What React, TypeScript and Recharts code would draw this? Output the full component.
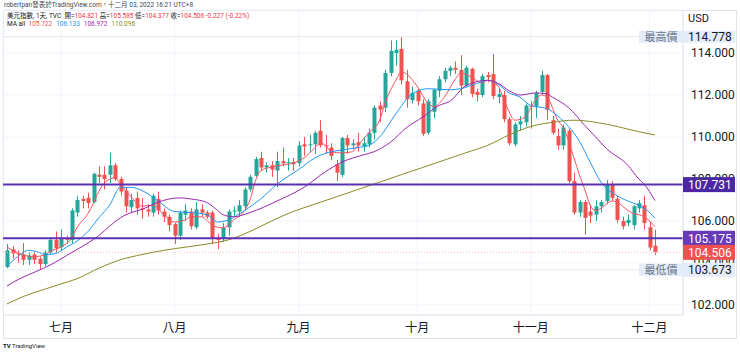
import { Bar, CartesianGrid, ComposedChart, Line, ReferenceLine, XAxis, YAxis } from 'recharts';

const FONT = 'Roboto, "Noto Sans CJK TC", sans-serif';
const UP = '#26a69a';
const DOWN = '#ef5350';

const dates = [
  '06-17', '06-20', '06-21', '06-22', '06-23', '06-24', '06-27', '06-28', '06-29', '06-30',
  '07-01', '07-04', '07-05', '07-06', '07-07', '07-08', '07-11', '07-12', '07-13', '07-14',
  '07-15', '07-18', '07-19', '07-20', '07-21', '07-22', '07-25', '07-26', '07-27', '07-28',
  '07-29', '08-01', '08-02', '08-03', '08-04', '08-05', '08-08', '08-09', '08-10', '08-11',
  '08-12', '08-15', '08-16', '08-17', '08-18', '08-19', '08-22', '08-23', '08-24', '08-25',
  '08-26', '08-29', '08-30', '08-31', '09-01', '09-02', '09-05', '09-06', '09-07', '09-08',
  '09-09', '09-12', '09-13', '09-14', '09-15', '09-16', '09-19', '09-20', '09-21', '09-22',
  '09-23', '09-26', '09-27', '09-28', '09-29', '09-30', '10-03', '10-04', '10-05', '10-06',
  '10-07', '10-10', '10-11', '10-12', '10-13', '10-14', '10-17', '10-18', '10-19', '10-20',
  '10-21', '10-24', '10-25', '10-26', '10-27', '10-28', '10-31', '11-01', '11-02', '11-03',
  '11-04', '11-07', '11-08', '11-09', '11-10', '11-11', '11-14', '11-15', '11-16', '11-17',
  '11-18', '11-21', '11-22', '11-23', '11-24', '11-25', '11-28', '11-29', '11-30', '12-01',
  '12-02',
];

const opens = [
  103.8, 104.65, 104.45, 104.4, 104.15, 104.4, 104.2, 103.95, 104.5, 105.1,
  104.75, 105.15, 105.1, 106.4, 107.05, 107.1, 106.9, 108.2, 108.2, 108.2,
  108.65, 108.0, 107.45, 106.65, 107.1, 106.6, 106.55, 106.4, 107.05, 106.45,
  106.2, 105.85, 105.3, 106.3, 106.45, 105.7, 106.55, 106.4, 106.4, 105.2,
  105.15, 105.7, 106.45, 106.45, 106.7, 107.5, 108.15, 109.0, 108.55, 108.65,
  108.4, 108.85, 108.75, 108.8, 108.75, 109.65, 109.6, 109.65, 110.3, 109.6,
  109.5, 108.7, 108.2, 109.95, 109.6, 109.75, 109.55, 109.65, 110.2, 111.5,
  111.4, 113.05, 114.0, 114.2, 112.65, 111.75, 112.2, 111.6, 110.2, 111.2,
  112.2, 112.75, 113.15, 113.3, 113.2, 112.45, 113.25, 112.15, 112.0, 112.95,
  113.0, 111.9, 112.0, 110.85, 109.65, 110.6, 110.7, 111.5, 111.45, 112.15,
  112.95, 110.8, 110.05, 109.6, 110.3, 107.9, 106.4, 106.9, 106.45, 106.3,
  106.7, 106.95, 107.75, 107.05, 106.0, 105.9, 105.8, 106.6, 106.75, 105.7,
  104.821,
];

const highs = [
  104.9, 104.8, 104.6, 104.95, 104.5, 104.55, 104.3, 104.6, 105.2, 105.5,
  105.6, 105.3, 106.6, 107.2, 107.2, 107.35, 108.3, 108.6, 108.6, 109.25,
  108.75, 108.1, 107.6, 107.3, 107.4, 107.1, 106.8, 107.3, 107.4, 106.6,
  106.3, 105.9, 106.5, 106.8, 106.6, 106.9, 106.8, 106.5, 106.5, 105.4,
  105.9, 106.55, 106.7, 107.0, 107.6, 108.2, 109.05, 109.3, 108.8, 108.85,
  109.3, 109.5, 109.0, 109.0, 109.8, 110.0, 110.1, 110.3, 110.8, 110.1,
  109.7, 108.9, 110.0, 110.1, 109.9, 110.2, 110.0, 110.4, 111.5, 111.7,
  113.2, 114.6, 114.6, 114.778, 113.2, 112.4, 112.3, 111.8, 111.8, 112.3,
  112.9, 113.3, 113.4, 113.6, 113.9, 113.4, 113.3, 112.3, 113.0, 113.1,
  113.95, 112.3, 112.2, 110.95, 110.7, 111.0, 111.6, 111.7, 112.2, 113.15,
  113.0, 111.0, 110.4, 110.6, 110.4, 108.3, 107.0, 107.0, 106.8, 107.0,
  107.0, 107.95, 107.9, 107.2, 106.2, 106.3, 106.75, 107.0, 107.2, 105.95,
  105.585,
];

const lows = [
  103.75, 104.2, 104.0, 103.9, 103.9, 103.95, 103.673, 103.85, 104.4, 104.5,
  104.6, 104.9, 104.95, 106.2, 106.6, 106.6, 106.85, 107.8, 107.5, 107.8,
  107.9, 107.2, 106.4, 106.4, 106.3, 106.1, 106.2, 106.2, 106.3, 105.95,
  105.5, 104.9, 105.1, 106.0, 105.6, 105.6, 106.2, 106.1, 104.9, 104.65,
  105.0, 105.3, 106.2, 106.2, 106.5, 107.4, 108.1, 108.4, 108.3, 108.1,
  107.6, 108.6, 108.4, 108.4, 108.6, 109.1, 109.3, 109.2, 109.5, 109.2,
  108.9, 107.9, 108.1, 109.2, 109.4, 109.3, 109.3, 109.5, 109.9, 110.7,
  111.2, 112.9, 113.4, 112.5, 111.4, 111.6, 111.5, 110.05, 110.1, 110.9,
  111.9, 112.6, 112.9, 113.0, 112.0, 112.4, 111.9, 111.7, 111.9, 112.6,
  111.8, 111.6, 110.7, 109.6, 109.55, 110.3, 110.5, 110.4, 110.9, 112.0,
  110.8, 110.1, 109.4, 109.4, 107.8, 106.3, 106.2, 105.35, 105.9, 106.0,
  106.4, 106.8, 106.95, 105.9, 105.6, 105.75, 105.6, 106.4, 105.6, 104.6,
  104.377,
];

const closes = [
  104.6, 104.45, 104.4, 104.15, 104.35, 104.15, 103.95, 104.5, 105.1, 104.7,
  105.15, 105.1, 106.5, 107.0, 106.95, 106.85, 108.25, 108.1, 108.0, 108.65,
  108.0, 107.4, 106.7, 107.0, 106.6, 106.55, 106.45, 107.2, 106.5, 106.2,
  105.8, 105.3, 106.4, 106.5, 105.75, 106.55, 106.4, 106.2, 105.2, 105.1,
  105.7, 106.45, 106.5, 106.75, 107.5, 108.1, 108.95, 108.55, 108.65, 108.45,
  108.85, 108.75, 108.8, 108.7, 109.6, 109.55, 109.65, 110.2, 109.6, 109.55,
  109.1, 108.3, 109.95, 109.6, 109.7, 109.6, 109.7, 110.2, 111.4, 111.3,
  113.05, 114.1, 114.15, 112.7, 111.8, 112.1, 111.7, 110.15, 111.7, 112.25,
  112.75, 113.15, 113.3, 113.2, 112.45, 113.3, 112.05, 112.0, 112.9, 112.85,
  111.95, 112.05, 110.85, 109.7, 110.6, 110.75, 111.5, 111.45, 112.1, 112.95,
  111.3, 110.2, 109.6, 110.45, 107.9, 106.4, 106.9, 106.15, 106.25, 106.7,
  106.9, 107.75, 107.1, 106.05, 105.75, 106.05, 106.7, 106.85, 105.9, 104.733,
  104.506,
];

const monthStarts = ['07-01', '08-01', '09-01', '10-03', '11-01', '12-01'];
const monthLabels = ['七月', '八月', '九月', '十月', '十一月', '十二月'];

// moving averages: [candle index, value]
const ma5 = [
  [0, 104.76], [1, 104.6], [3, 104.38], [5, 104.3], [7, 104.38], [8, 104.55], [10, 104.76],
  [12, 105.2], [13, 105.7], [15, 106.35], [16, 106.85], [17, 107.4], [18, 107.8], [20, 108.05],
  [21, 107.75], [23, 107.15], [25, 106.7], [27, 106.75], [29, 106.3], [31, 105.95], [33, 106.05],
  [34, 106.2], [36, 106.2], [38, 105.8], [40, 105.67], [42, 106.05], [44, 106.5], [45, 107.0],
  [46, 107.9], [47, 108.4], [49, 108.57], [51, 108.67], [53, 108.76], [55, 109.0], [57, 109.48],
  [58, 109.7], [59, 109.6], [60, 109.3], [62, 109.24], [64, 109.3], [65, 109.6], [67, 110.2],
  [69, 110.8], [70, 111.6], [72, 112.7], [73, 113.1], [74, 113.0], [76, 112.4], [78, 111.6],
  [79, 111.45], [81, 111.9], [83, 112.75], [84, 113.05], [86, 112.86], [88, 112.57], [89, 112.7],
  [91, 112.4], [92, 111.8], [93, 111.2], [94, 110.8], [96, 110.95], [97, 111.4], [99, 112.0],
  [100, 111.9], [102, 110.8], [103, 110.45], [105, 109.0], [106, 108.2], [107, 107.5],
  [108, 106.75], [109, 106.5], [110, 106.6], [111, 106.8], [112, 106.95], [113, 106.9],
  [114, 106.7], [115, 106.5], [116, 106.35], [117, 106.3], [118, 106.2], [119, 106.0],
  [120, 105.722],
];

const ma10 = [
  [0, 103.85], [2, 104.3], [4, 104.6], [6, 104.5], [7, 104.4], [9, 104.45], [11, 104.75],
  [13, 105.05], [15, 105.5], [17, 106.15], [19, 106.75], [21, 107.6], [23, 107.6], [25, 107.45],
  [28, 106.95], [31, 106.45], [34, 106.4], [37, 106.3], [39, 105.95], [41, 106.05], [44, 106.5],
  [47, 107.05], [50, 107.75], [54, 108.45], [57, 109.0], [60, 109.3], [62, 109.38], [65, 109.5],
  [67, 109.6], [69, 110.0], [72, 111.1], [75, 112.05], [78, 112.3], [82, 112.25], [84, 112.3],
  [87, 112.55], [89, 112.7], [91, 112.5], [93, 112.1], [95, 111.9], [97, 111.5], [100, 111.35],
  [102, 111.0], [104, 110.5], [106, 109.8], [108, 108.8], [110, 107.85], [113, 107.2],
  [116, 106.85], [117, 106.75], [118, 106.6], [119, 106.4], [120, 106.133],
];

const ma20 = [
  [0, 102.9], [2, 103.2], [5, 103.55], [8, 103.9], [12, 104.5], [15, 104.95], [17, 105.3],
  [19, 105.75], [21, 106.15], [23, 106.4], [25, 106.55], [28, 106.9], [32, 107.1], [34, 107.05],
  [37, 106.88], [39, 106.5], [40, 106.3], [42, 106.2], [45, 106.4], [50, 106.95], [55, 107.6],
  [59, 108.35], [62, 108.8], [66, 109.15], [68, 109.3], [71, 109.75], [74, 110.45], [77, 110.95],
  [80, 111.5], [82, 111.7], [85, 112.45], [89, 112.7], [91, 112.55], [93, 112.2], [95, 112.0],
  [98, 112.1], [100, 112.05], [101, 111.9], [104, 111.4], [107, 110.55], [109, 110.0],
  [111, 109.45], [115, 108.65], [117, 108.0], [118, 107.75], [120, 106.972],
];

const ma60 = [
  [0, 102.05], [3, 102.4], [7, 102.75], [10, 103.0], [13, 103.25], [17, 103.75], [21, 104.15],
  [25, 104.4], [29, 104.6], [33, 104.75], [37, 104.9], [41, 105.1], [45, 105.5], [49, 106.0],
  [53, 106.45], [57, 106.8], [61, 107.15], [65, 107.5], [69, 107.85], [73, 108.2], [77, 108.55],
  [81, 108.9], [85, 109.25], [89, 109.6], [93, 110.1], [97, 110.5], [101, 110.7], [105, 110.8],
  [109, 110.7], [113, 110.5], [117, 110.25], [120, 110.096],
];

const priceTicks = [102, 104, 106, 108, 110, 112, 114];
const resistance = 107.731;
const support = 105.175;

const X_DOMAIN = [-0.74, 125.19];
const Y_DOMAIN = [101.52, 116.05];

const candles = dates.map((date, i) => ({
  i,
  date,
  open: opens[i],
  high: highs[i],
  low: lows[i],
  close: closes[i],
}));

const toPoints = (rows: number[][]) => rows.map(([i, v]) => ({ i, v }));

const last = candles.length - 1;
const lastClose = closes[last];
const change = lastClose - closes[last - 1];
const highest = Math.max(...highs);
const lowest = Math.min(...lows);

const maLines = [
  { name: 'ma5', rows: ma5, color: '#f7525f' },
  { name: 'ma10', rows: ma10, color: '#2196f3' },
  { name: 'ma20', rows: ma20, color: '#9c27b0' },
  { name: 'ma60', rows: ma60, color: '#8a8a24' },
];

function Candle(props: any) {
  const { x, y, width, height, payload } = props;
  if (!payload) return null;
  const { open, high, low, close } = payload;
  const top = Math.min(y, y + height);
  const h = Math.abs(height);
  const k = high === low ? 0 : h / (high - low);
  const color = close >= open ? UP : DOWN;
  const bodyTop = top + (high - Math.max(open, close)) * k;
  const bodyH = Math.max(1, Math.abs(open - close) * k);
  const cx = Math.round(x + width / 2) + 0.5;
  return (
    <g>
      <line x1={cx} x2={cx} y1={top} y2={top + h} stroke={color} strokeWidth={1} />
      <rect x={cx - 2} y={bodyTop} width={4} height={bodyH} fill={color} />
    </g>
  );
}

function PriceTag(props: any) {
  const { viewBox, price, bg, color, note, h = 15 } = props;
  if (!viewBox) return null;
  const right = viewBox.x + viewBox.width;
  const cy = viewBox.y;
  return (
    <g>
      {note && (
        <g>
          <rect x={right - 44} y={cy - 6} width={44} height={12} fill={bg} />
          <text x={right - 22} y={cy + 4} textAnchor="middle" fontSize={11} fill="#66738a" fontFamily={FONT}>
            {note}
          </text>
        </g>
      )}
      <rect x={right} y={cy - h / 2} width={52} height={h} fill={bg} />
      <text x={right + 5} y={cy + 4.5} fontSize={12} fill={color} fontFamily={FONT}>
        {price.toFixed(3)}
      </text>
    </g>
  );
}

const lineText = { position: 'absolute' as const, fontSize: 6.5, lineHeight: '8px', color: '#131722', whiteSpace: 'nowrap' as const };

export default function App() {
  const monthTicks = monthStarts.map((m) => dates.indexOf(m));
  const red = { color: '#f23645' };
  return (
    <div style={{ position: 'absolute', left: 0, top: 0, width: 740, height: 353, background: '#fff', fontFamily: FONT, overflow: 'hidden' }}>
      <div style={{ position: 'absolute', left: 3, top: 10, width: 734, height: 329, border: '1px solid #e0e3eb', boxSizing: 'border-box' }} />
      <div style={{ position: 'absolute', left: 0, top: 0 }}>
        <ComposedChart width={740} height={353} data={candles} margin={{ top: 10, right: 3, bottom: 15, left: 3 }}>
          <CartesianGrid stroke="#f0f3fa" />
          <XAxis
            type="number"
            dataKey="i"
            domain={X_DOMAIN}
            allowDataOverflow
            ticks={monthTicks}
            tickFormatter={(v: number) => monthLabels[monthTicks.indexOf(v)] ?? ''}
            height={23}
            tickLine={false}
            axisLine={{ stroke: '#e0e3eb' }}
            tick={{ fontSize: 12, fill: '#131722', fontFamily: FONT }}
          />
          <YAxis
            orientation="right"
            domain={Y_DOMAIN}
            allowDataOverflow
            ticks={priceTicks}
            tickFormatter={(v: number) => v.toFixed(3)}
            width={54}
            tickLine={false}
            axisLine={{ stroke: '#e0e3eb' }}
            tick={{ fontSize: 12, fill: '#131722', fontFamily: FONT }}
          />
          <ReferenceLine y={highest} stroke="#e6e9ef" strokeWidth={1} />
          <ReferenceLine y={lowest} stroke="#e6e9ef" strokeWidth={1} />
          <ReferenceLine y={lastClose} stroke="#f7c1c4" strokeDasharray="1 2" strokeWidth={1} />
          <Bar dataKey={(d: any) => [d.low, d.high]} barSize={4} shape={<Candle />} isAnimationActive={false} />
          {maLines.map((m) => (
            <Line
              key={m.name}
              data={toPoints(m.rows)}
              dataKey="v"
              type="monotone"
              stroke={m.color}
              strokeWidth={1}
              dot={false}
              activeDot={false}
              isAnimationActive={false}
            />
          ))}
          <ReferenceLine y={resistance} stroke="#5b30b3" strokeWidth={2} />
          <ReferenceLine y={support} stroke="#5b30b3" strokeWidth={2} />
        </ComposedChart>
      </div>
      {/* second, transparent chart on top so the price tags cover the axis ticks */}
      <div style={{ position: 'absolute', left: 0, top: 0 }}>
        <ComposedChart width={740} height={353} data={candles} margin={{ top: 10, right: 57, bottom: 38, left: 3 }}>
          <XAxis type="number" dataKey="i" domain={X_DOMAIN} allowDataOverflow hide />
          <YAxis domain={Y_DOMAIN} allowDataOverflow hide />
          <ReferenceLine y={highest} stroke="none" label={<PriceTag price={highest} bg="#e3ecf8" color="#131722" note="最高價" h={12} />} />
          <ReferenceLine y={lowest} stroke="none" label={<PriceTag price={lowest} bg="#e3ecf8" color="#131722" note="最低價" h={14} />} />
          <ReferenceLine y={resistance} stroke="none" label={<PriceTag price={resistance} bg="#4a28a3" color="#fff" />} />
          <ReferenceLine y={support} stroke="none" label={<PriceTag price={support} bg="#673ab7" color="#fff" />} />
          <ReferenceLine y={lastClose} stroke="none" label={<PriceTag price={lastClose} bg="#f0504f" color="#fff" />} />
        </ComposedChart>
      </div>
      <div style={{ position: 'absolute', left: 688, top: 12, fontSize: 11, color: '#131722' }}>USD</div>
      <div style={{ ...lineText, left: 4, top: 1, color: '#434651' }}>
        robertpan發表於TradingView.com，十二月 03, 2022 16:21 UTC+8
      </div>
      <div style={{ ...lineText, left: 7, top: 12 }}>
        美元指數, 1天, TVC&nbsp; 開=<span style={red}>{opens[last].toFixed(3)}</span> 高=<span style={red}>{highs[last].toFixed(3)}</span> 低=
        <span style={red}>{lows[last].toFixed(3)}</span> 收=<span style={red}>{lastClose.toFixed(3)}</span>{' '}
        <span style={red}>
          {change.toFixed(3)} ({((change / closes[last - 1]) * 100).toFixed(2)}%)
        </span>
      </div>
      <div style={{ ...lineText, left: 7, top: 20 }}>
        MA all&nbsp;&nbsp;
        {maLines.map((m) => (
          <span key={m.name} style={{ color: m.color, marginRight: 4 }}>
            {m.rows[m.rows.length - 1][1].toFixed(3)}
          </span>
        ))}
      </div>
      <div style={{ ...lineText, left: 3, top: 342, fontSize: 6 }}>
        <b>TV</b> TradingView
      </div>
    </div>
  );
}
